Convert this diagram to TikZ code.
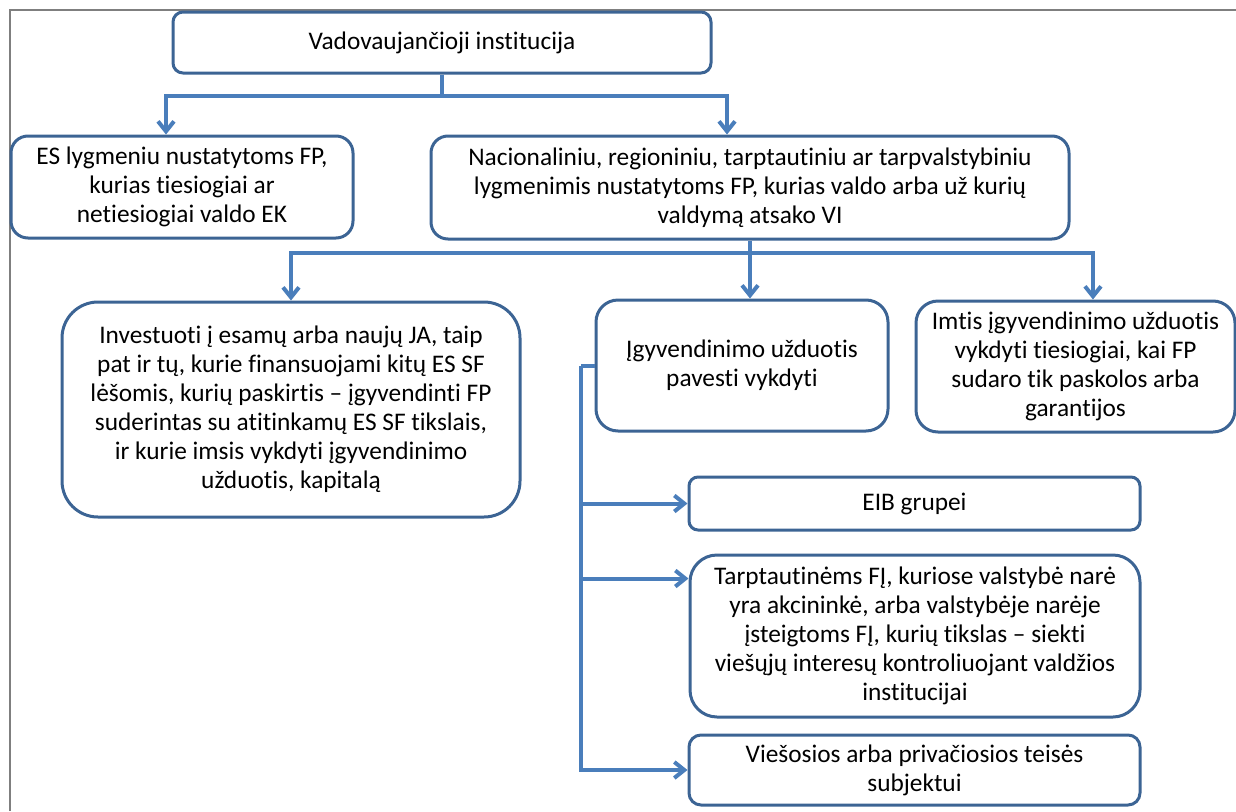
\documentclass[tikz,border=0pt]{standalone}
\usepackage{fontspec}
\setmainfont{Carlito}[Ligatures=NoCommon]
\usetikzlibrary{arrows.meta}
\definecolor{boxline}{HTML}{3C6494}
\definecolor{linkline}{HTML}{4A7EBB}
\definecolor{framegray}{HTML}{7F7F7F}

\begin{document}
\begin{tikzpicture}[x=0.75pt,y=-0.75pt,
    box/.style={draw=boxline,line width=2.25pt,align=center,inner sep=0pt,
      font=\fontsize{19}{21.75}\selectfont},
    link/.style={draw=linkline,line width=3pt},
    arr/.style={link,-{Straight Barb[length=7.5pt,width=12pt]}}]
  \useasboundingbox (0,0) rectangle (1236,811);
  \draw[framegray,line width=1.5pt] (10,811) |- (1236,10);

  \node[box,minimum width=403.5pt,minimum height=45.75pt,rounded corners=7.5pt] (vi) at (442,42.5)
    {Vadovaujančioji institucija};
  \node[box,minimum width=256.5pt,minimum height=76.5pt,rounded corners=12.75pt] (es) at (182,187)
    {ES lygmeniu nustatytoms FP,\\ kurias tiesiogiai ar\\ netiesiogiai valdo EK};
  \node[box,minimum width=478.5pt,minimum height=77.25pt,rounded corners=12.75pt] (nac) at (750,187.5)
    {Nacionaliniu, regioniniu, tarptautiniu ar tarpvalstybiniu\\ lygmenimis nustatytoms FP, kurias valdo arba už kurių\\ valdymą atsako VI};
  \node[box,minimum width=343.5pt,minimum height=161.25pt,rounded corners=27pt] (inv) at (291,409.5)
    {Investuoti į esamų arba naujų JA, taip\\ pat ir tų, kurie finansuojami kitų ES SF\\ lėšomis, kurių paskirtis – įgyvendinti FP\\ suderintas su atitinkamų ES SF tikslais,\\ ir kurie imsis vykdyti įgyvendinimo\\ užduotis, kapitalą};
  \node[box,minimum width=219pt,minimum height=98.25pt,rounded corners=16.5pt] (igy) at (742,365.5)
    {Įgyvendinimo užduotis\\ pavesti vykdyti};
  \node[box,minimum width=239.25pt,minimum height=98.25pt,rounded corners=16.5pt] (imt) at (1075.5,366.5)
    {Imtis įgyvendinimo užduotis\\ vykdyti tiesiogiai, kai FP\\ sudaro tik paskolos arba\\ garantijos};
  \node[box,minimum width=338.25pt,minimum height=39.75pt,rounded corners=6.75pt] (eib) at (914.5,503.5)
    {EIB grupei};
  \node[box,minimum width=337.5pt,minimum height=121.5pt,rounded corners=20.25pt] (tar) at (915,636)
    {Tarptautinėms FĮ, kuriose valstybė narė\\ yra akcininkė, arba valstybėje narėje\\ įsteigtoms FĮ, kurių tikslas – siekti\\ viešųjų interesų kontroliuojant valdžios\\ institucijai};
  \node[box,minimum width=338.25pt,minimum height=52.5pt,rounded corners=9pt] (vie) at (914.5,770)
    {Viešosios arba privačiosios teisės\\ subjektui};

  \coordinate (j1) at (442,96);
  \draw[link] (vi.south) -- (j1);
  \draw[arr] (j1) -| ([xshift=-12pt]es.north);
  \draw[arr] (j1) -| ([xshift=-17.25pt]nac.north);

  \coordinate (j2) at ([yshift=-9pt]nac.south);
  \draw[link] (nac.south) -- (j2);
  \draw[arr] (j2) -| (inv.north);
  \draw[arr] (j2) -| ([xshift=6pt]igy.north);
  \draw[arr] (j2) -| ([xshift=13.1pt]imt.north);

  \coordinate (trunk) at ([xshift=-10.5pt]igy.west);
  \coordinate (tarin) at ([yshift=-18.75pt]tar.north west);
  \draw[link] (igy.west) -- (trunk);
  \draw[arr] (trunk) |- (vie.west);
  \draw[arr] (trunk |- eib.west) -- (eib.west);
  \draw[arr] (trunk |- tarin) -- (tarin);
\end{tikzpicture}
\end{document}
